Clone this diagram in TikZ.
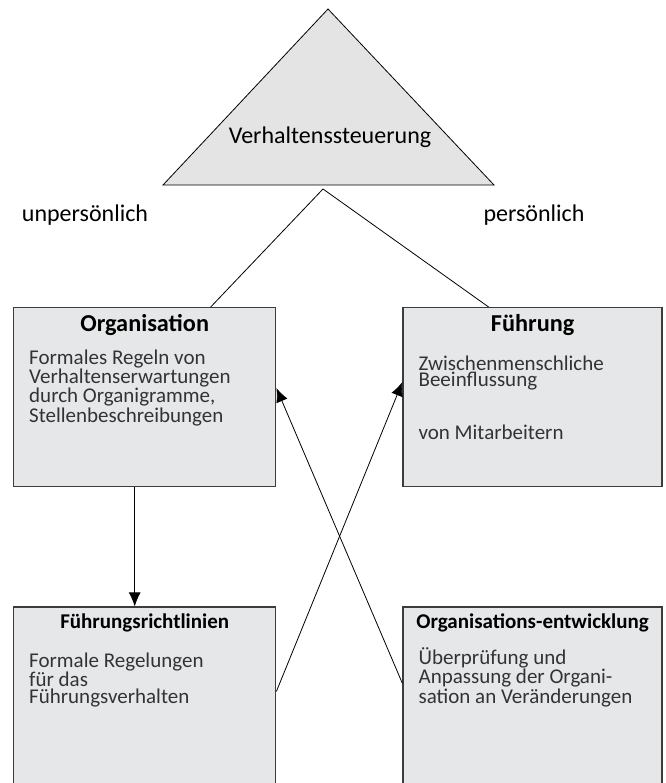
\documentclass[tikz,border=0pt]{standalone}
\usepackage{fontspec}
\setmainfont{Carlito}
\usetikzlibrary{positioning,arrows.meta}
\definecolor{boxgray}{HTML}{E6E7E8}
\definecolor{trigray}{HTML}{E4E4E4}
\definecolor{edgegray}{HTML}{3C3C3C}
\definecolor{txtgray}{HTML}{333333}

\begin{document}
\begin{tikzpicture}[x=1pt,y=-1pt,
    box/.style={draw=edgegray,line width=1.4pt,fill=boxgray,
      minimum height=179pt,inner sep=0pt,anchor=north west},
    bhead/.style={font=\fontsize{24.3}{27}\selectfont\bfseries,inner sep=0pt,anchor=base},
    shead/.style={font=\fontsize{21}{24}\selectfont\bfseries,inner sep=0pt,anchor=base},
    btext/.style={font=\fontsize{21}{16}\selectfont,text=txtgray,align=left,
      inner sep=0pt,anchor=base west},
    lbl/.style={font=\fontsize{24}{28}\selectfont,inner sep=0pt,anchor=base},
    arr/.style={-{Latex[length=14pt,width=12pt]},line width=0.8pt}]
 \useasboundingbox (0,0) rectangle (665,783);
 % Dreieck oben
 \path[draw,fill=trigray,line width=0.8pt] (328,9) coordinate (TOP)
   -- (494,185) coordinate (TR) -- (163,185) coordinate (TL) -- cycle;
 \node[lbl] (VS) at (330,144) {Verhaltenssteuerung};
 \coordinate (VSB) at (323,189);
 \node[lbl] (UNP) at (85,222) {unpersönlich};
 \node[lbl] (PER) at (534,222) {persönlich};
 % Kaesten
 \node[box,minimum width=262pt] (ORG) at (13,307) {};
 \node[box,minimum width=259pt,right=126pt of ORG] (FUE) {};
 \node[box,minimum width=262pt,below=119pt of ORG] (FRL) {};
 \node[box,minimum width=259pt,below=119pt of FUE] (OE) {};
 \node[bhead] (ORGT) at ([yshift=-24pt]ORG.north) {Organisation};
 \node[bhead] (FUET) at ([yshift=-24pt]FUE.north) {Führung};
 \node[shead] (FRLT) at ([yshift=-22pt]FRL.north) {Führungsrichtlinien};
 \node[shead] (OET) at ([yshift=-22pt]OE.north) {Organisations-entwicklung};
 % Fliesstext, Anker auf der letzten Grundlinie
 \node[btext] (ORGX) at ([xshift=16pt,yshift=-115pt]ORG.north west)
  {Formales Regeln von\\ Verhaltenserwartungen\\ durch Organigramme,\\ Stellenbeschreibungen};
 \node[btext] (FUEX) at ([xshift=16pt,yshift=-132pt]FUE.north west)
  {Zwischenmenschliche\\ Beeinflussung\\[33pt] von Mitarbeitern};
 \node[btext] (FRLX) at ([xshift=16pt,yshift=-97pt]FRL.north west)
  {Formale Regelungen\\[0.5pt] für das\\[0.5pt] Führungsverhalten};
 \node[btext] (OEX) at ([xshift=16pt,yshift=-97pt]OE.north west)
  {Überprüfung und\\[0.5pt] Anpassung der Organi-\\[0.5pt] sation an Veränderungen};
 % Verbindungen
 \draw[line width=0.8pt] (VSB) -- ([xshift=66pt]ORG.north)
   (VSB) -- ([xshift=-44pt]FUE.north);
 \draw[arr] ([xshift=-10pt]ORG.south) -- ([xshift=-10pt]FRL.north);
 \draw[arr] ([yshift=-85pt]FRL.north east) -- ([yshift=-75pt]FUE.north west);
 \draw[arr] ([yshift=-77pt]OE.north west) -- ([yshift=-81pt]ORG.north east);
\end{tikzpicture}
\end{document}
